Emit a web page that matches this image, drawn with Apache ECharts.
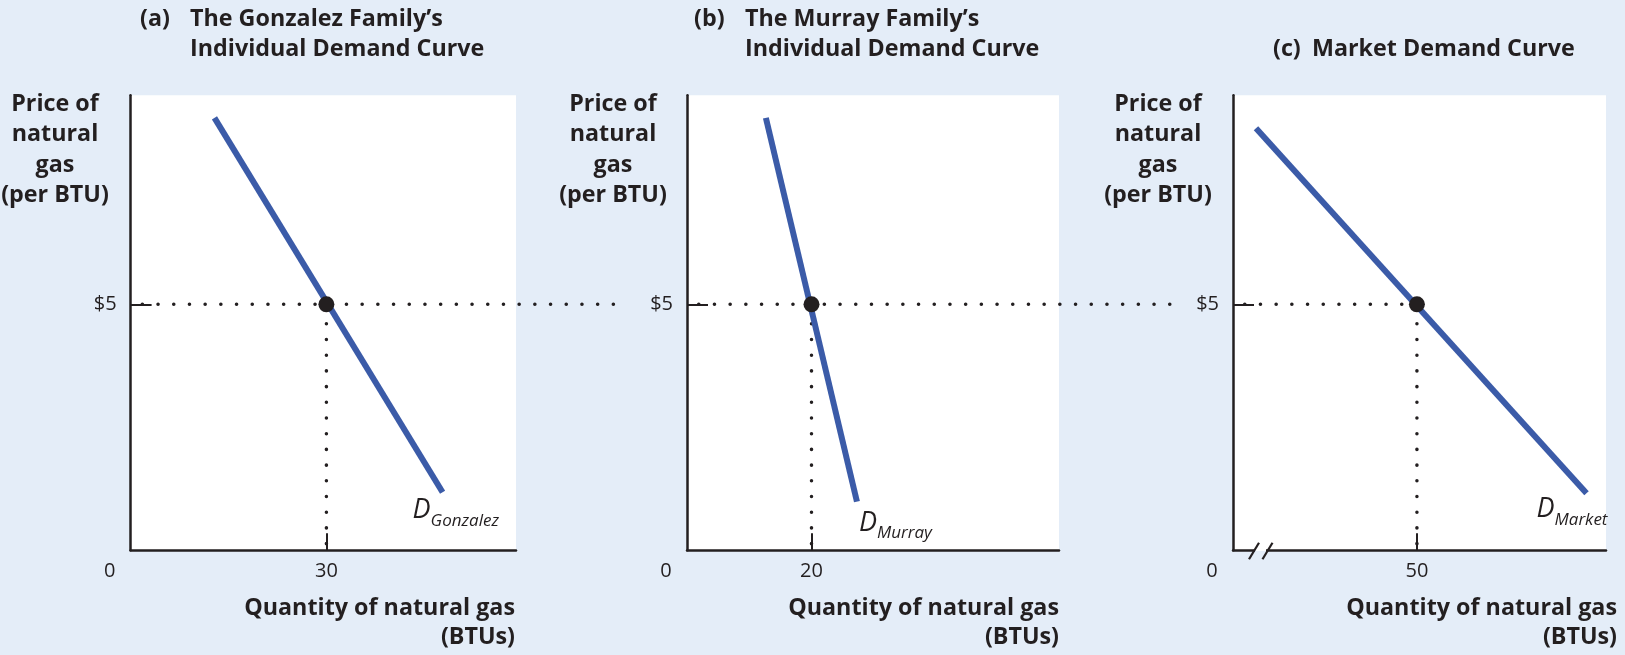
<!DOCTYPE html>
<html><head><meta charset="utf-8">
<script src="https://cdn.jsdelivr.net/npm/echarts@6/dist/echarts.min.js"></script>
<style>html,body{margin:0;padding:0;background:#e4edf8}#c{width:1625px;height:655px}</style>
</head><body><div id="c"></div>
<script>
// ---- data ----
const panelTitles = ['(a)|The Gonzalez Family’s|Individual Demand Curve', '(b)|The Murray Family’s|Individual Demand Curve', '(c)|Market Demand Curve'];
const yAxisName = 'Price of\nnatural\ngas\n(per BTU)';
const xAxisName = 'Quantity of natural gas\n(BTUs)';
const priceTicks = [5];
const priceMax = 9.25;
const qtyTicksA = [0, 30];
const qtyTicksB = [0, 20];
const qtyTicksC = [0, 50];
const qtyMax = [59.05, 59.76, 101.4];
const gonzalezCurve = [[12.85, 8.79], [47.8, 1.18]];
const murrayCurve = [[12.67, 8.79], [27.3, 0.99]];
const marketCurve = [[6.25, 8.58], [96.1, 1.16]];
const gonzalezPoint = [30, 5];
const murrayPoint = [20, 5];
const marketPoint = [50, 5];
const priceGuideEnd = [75.3, 77.75, 50];
const curveNames = ['Gonzalez', 'Murray', 'Market'];

// ---- styles ----
const INK = '#231f20', BLUE = '#3b5ba8', BG = '#e4edf8';
const FONT = '"Open Sans", "DejaVu Sans", sans-serif';
const grids = [
  {left: 130.6, width: 385.4},
  {left: 687, width: 372},
  {left: 1233, width: 373}
];
const curves = [gonzalezCurve, murrayCurve, marketCurve];
const points = [gonzalezPoint, murrayPoint, marketPoint];
const qtyTicks = [qtyTicksA, qtyTicksB, qtyTicksC];
const labelOffsets = [[-38, 17], [-6, 20], [-58, 15]];
const dotStyle = {color: INK, width: 3.5, type: [0.1, 15.6], cap: 'round'};

const option = {
  backgroundColor: BG,
  animation: false,
  grid: grids.map(g => ({left: g.left, width: g.width, top: 95.3, height: 455, show: true,
    backgroundColor: '#ffffff', borderWidth: 0, containLabel: false, outerBoundsMode: 'none'})),
  xAxis: grids.map((g, i) => ({
    type: 'value', gridIndex: i, min: 0, max: qtyMax[i],
    axisLine: {show: true, onZero: false, lineStyle: {color: INK, width: 2.5}},
    axisTick: {show: true, inside: true, length: 17, customValues: qtyTicks[i].filter(v => v !== 0), lineStyle: {color: INK, width: 2}},
    axisLabel: {show: true, customValues: qtyTicks[i], margin: 11, color: INK, fontFamily: FONT, fontSize: 20,
      formatter: v => v === 0 ? '{z|0}' : String(v),
      rich: {z: {color: INK, fontFamily: FONT, fontSize: 20, padding: [0, 42, 0, 0]}}},
    splitLine: {show: false}
  })),
  yAxis: grids.map((g, i) => ({
    type: 'value', gridIndex: i, min: 0, max: priceMax,
    axisLine: {show: true, onZero: false, lineStyle: {color: INK, width: 2.5}},
    axisTick: {show: true, inside: true, length: 21, customValues: priceTicks, lineStyle: {color: INK, width: 2}},
    axisLabel: {show: true, customValues: priceTicks, margin: 14, color: INK, fontFamily: FONT, fontSize: 20,
      formatter: v => '$' + v},
    splitLine: {show: false}
  })),
  series: []
};

curves.forEach((c, i) => {
  const p = points[i];
  // vertical dotted guide
  option.series.push({
    type: 'line', xAxisIndex: i, yAxisIndex: i, data: [[p[0], p[1]], [p[0], 0]],
    showSymbol: false, silent: true, clip: false, z: 2,
    lineStyle: Object.assign({dashOffset: 12}, dotStyle)
  });
  // demand curve
  option.series.push({
    type: 'line', xAxisIndex: i, yAxisIndex: i, data: c, showSymbol: false, silent: true, z: 3,
    lineStyle: {color: BLUE, width: 6, cap: 'butt'},
    endLabel: {show: true, offset: labelOffsets[i], formatter: () => '{d|D}{s|' + curveNames[i] + '}',
      rich: {
        d: {fontFamily: FONT, fontStyle: 'italic', fontSize: 27, color: INK, lineHeight: 30, verticalAlign: 'bottom'},
        s: {fontFamily: FONT, fontStyle: 'italic', fontSize: 17, color: INK, lineHeight: 18, verticalAlign: 'bottom', padding: [0, 0, -5, 0]}
      }}
  });
  // equilibrium point
  option.series.push({
    type: 'scatter', xAxisIndex: i, yAxisIndex: i, data: [p], symbolSize: 16, z: 6, clip: false, silent: true,
    itemStyle: {color: INK, opacity: 1}
  });
});

const chart = echarts.init(document.getElementById('c'), null, {renderer: 'canvas'});
chart.setOption(option);

// static text, horizontal price guides (through the axes' scales) and axis break
const TFONT = 'bold 23.3px ' + FONT;
const titleX = [[140, 190], [694, 745], [1273, 1312]];
const graphics = [];
panelTitles.forEach((t, i) => {
  const parts = t.split('|');
  const padW = titleX[i][1] - titleX[i][0];
  let text;
  if (parts.length === 3) text = '{p|' + parts[0] + '}' + parts[1] + '\n{p| }' + parts[2];
  else text = '{p|' + parts[0] + '}' + parts[1];
  graphics.push({type: 'text', x: titleX[i][0], y: parts.length === 3 ? 4 : 34, silent: true,
    style: {text, fill: INK, font: TFONT, lineHeight: 30, align: 'left', verticalAlign: 'top',
      rich: {p: {width: padW, fill: INK, font: TFONT, lineHeight: 30}}}});
});
const yNameX = [55, 613, 1158];
yNameX.forEach(x => graphics.push({type: 'text', x, y: 88.75, silent: true,
  style: {text: yAxisName, fill: INK, font: TFONT, lineHeight: 30.5, align: 'center', verticalAlign: 'top'}}));
const xNameX = [515, 1059, 1617];
xNameX.forEach(x => graphics.push({type: 'text', x, y: 593.5, silent: true,
  style: {text: xAxisName, fill: INK, font: TFONT, lineHeight: 29, align: 'right', verticalAlign: 'top'}}));

points.forEach((p, i) => {
  const a = chart.convertToPixel({xAxisIndex: i, yAxisIndex: i}, [0, p[1]]);
  const b = chart.convertToPixel({xAxisIndex: i, yAxisIndex: i}, [priceGuideEnd[i], p[1]]);
  graphics.push({type: 'line', silent: true, z: 1, zlevel: 0,
    shape: {x1: a[0], y1: a[1], x2: b[0], y2: b[1]},
    style: {stroke: INK, lineWidth: 3.5, lineDash: [0.1, 15.6], lineDashOffset: 4, lineCap: 'round'}});
});

const o = chart.convertToPixel({xAxisIndex: 2, yAxisIndex: 2}, [0, 0]);
graphics.push({type: 'rect', silent: true, z: 100, shape: {x: o[0] + 22, y: o[1] - 2.5, width: 11, height: 5}, style: {fill: '#ffffff'}});
graphics.push({type: 'rect', silent: true, z: 100, shape: {x: o[0] + 22, y: o[1] + 0.5, width: 11, height: 3}, style: {fill: BG}});
[16, 29.5].forEach(dx => graphics.push({type: 'line', silent: true, z: 101,
  shape: {x1: o[0] + dx, y1: o[1] + 9, x2: o[0] + dx + 10, y2: o[1] - 7.5}, style: {stroke: INK, lineWidth: 2.2}}));
chart.setOption({graphic: graphics});
</script>
</body></html>
